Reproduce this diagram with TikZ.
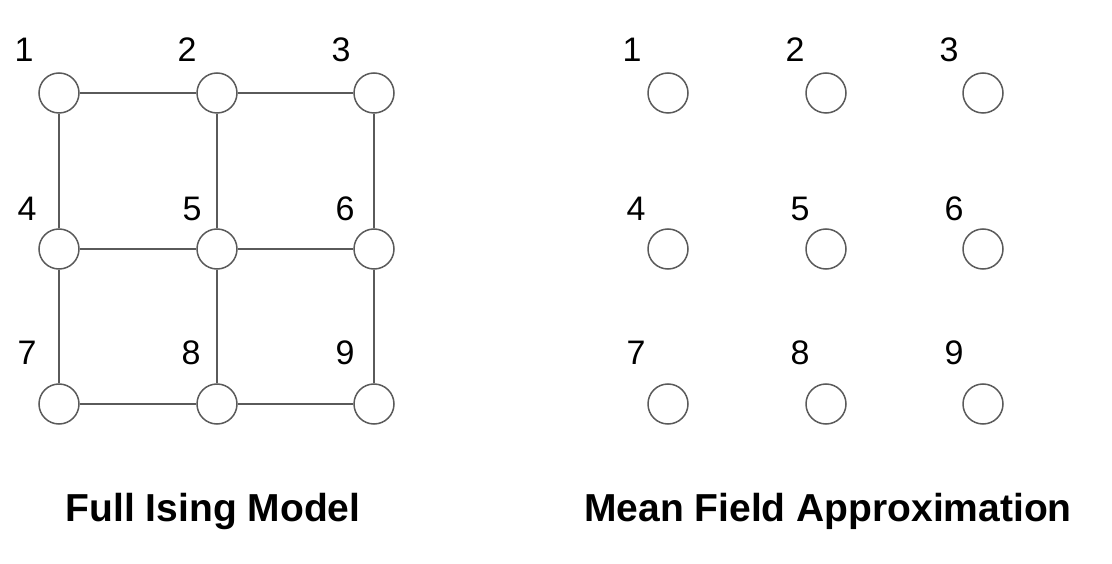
\documentclass[tikz,border=0pt]{standalone}
\usepackage{fontspec}
\setmainfont{Liberation Sans}
\definecolor{linegray}{HTML}{5A5A5A}
\begin{document}
\begin{tikzpicture}[x=1pt, y=-1pt, line width=1.5pt,
    site/.style={draw=linegray, fill=white, circle, minimum size=40pt, inner sep=0pt},
    idx/.style={font=\fontsize{34}{40}\selectfont, inner sep=0pt},
    caption/.style={font=\fontsize{39}{46}\selectfont\bfseries, anchor=base, inner sep=0pt},
    bond/.style={draw=linegray}]

      % white space around the picture
      \useasboundingbox (0, 0) rectangle (1112, 564);

      % full model sites
      \node [site, name=f1] at (59, 93) {};
      \node [site, name=f2] at (217, 93) {};
      \node [site, name=f3] at (374, 93) {};
      \node [site, name=f4] at (59, 249) {};
      \node [site, name=f5] at (217, 249) {};
      \node [site, name=f6] at (374, 249) {};
      \node [site, name=f7] at (59, 404) {};
      \node [site, name=f8] at (217, 404) {};
      \node [site, name=f9] at (374, 404) {};
      % mean field sites
      \node [site, name=m1] at (668, 93) {};
      \node [site, name=m2] at (826, 93) {};
      \node [site, name=m3] at (983, 93) {};
      \node [site, name=m4] at (668, 249) {};
      \node [site, name=m5] at (826, 249) {};
      \node [site, name=m6] at (983, 249) {};
      \node [site, name=m7] at (668, 404) {};
      \node [site, name=m8] at (826, 404) {};
      \node [site, name=m9] at (983, 404) {};

      % numbers
      \node [idx, name=nf1] at (24, 50) {1};
      \node [idx, name=nf2] at (187, 50) {2};
      \node [idx, name=nf3] at (341, 50) {3};
      \node [idx, name=nf4] at (27, 209) {4};
      \node [idx, name=nf5] at (192, 209) {5};
      \node [idx, name=nf6] at (345, 209) {6};
      \node [idx, name=nf7] at (27, 353) {7};
      \node [idx, name=nf8] at (191, 353) {8};
      \node [idx, name=nf9] at (345, 353) {9};
      \node [idx, name=nm1] at (632, 50) {1};
      \node [idx, name=nm2] at (795, 50) {2};
      \node [idx, name=nm3] at (949, 50) {3};
      \node [idx, name=nm4] at (636, 209) {4};
      \node [idx, name=nm5] at (800, 209) {5};
      \node [idx, name=nm6] at (954, 209) {6};
      \node [idx, name=nm7] at (636, 353) {7};
      \node [idx, name=nm8] at (800, 353) {8};
      \node [idx, name=nm9] at (954, 353) {9};

      % bonds
      \draw [bond] (f1) -- (f2);
      \draw [bond] (f2) -- (f3);
      \draw [bond] (f4) -- (f5);
      \draw [bond] (f5) -- (f6);
      \draw [bond] (f7) -- (f8);
      \draw [bond] (f8) -- (f9);
      \draw [bond] (f1) -- (f4);
      \draw [bond] (f4) -- (f7);
      \draw [bond] (f2) -- (f5);
      \draw [bond] (f5) -- (f8);
      \draw [bond] (f3) -- (f6);
      \draw [bond] (f6) -- (f9);

      % captions
      \node [caption, name=fulltitle] at (213, 521) {Full Ising Model};
      \node [caption, name=meantitle] at (828, 521) {Mean Field Approximation};

    \end{tikzpicture}
\end{document}
